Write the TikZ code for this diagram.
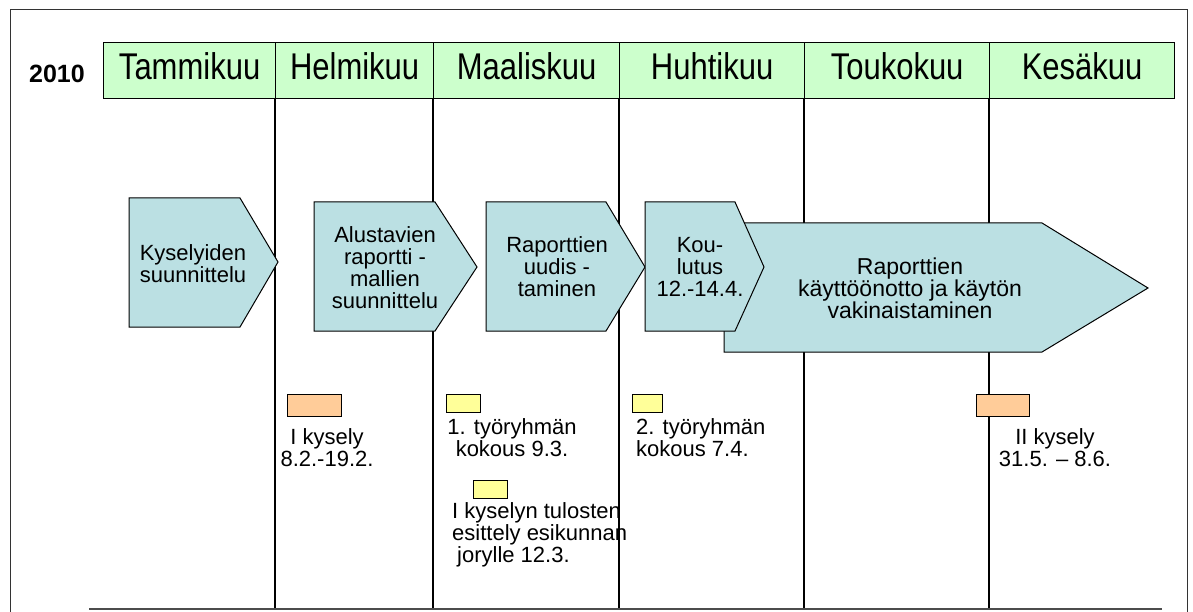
\documentclass[tikz,border=0pt]{standalone}
\usepackage{fontspec}
\setmainfont{Liberation Sans}
\usepackage{graphicx}
\definecolor{hdrgreen}{HTML}{CCFFCC}
\definecolor{phaseblue}{HTML}{BBE0E3}
\definecolor{orangebox}{HTML}{FFCC99}
\definecolor{yellowbox}{HTML}{FFFF99}
\newcommand{\tallhdr}[1]{\scalebox{1}[1.2]{#1}}
\begin{document}
\begin{tikzpicture}[x=1pt,y=-1pt,
  frame/.style={draw=black!80,line width=1pt},
  gridline/.style={draw=black,line width=1.2pt},
  bottomline/.style={draw=black!70,line width=2pt},
  hdrcell/.style={draw=black,fill=hdrgreen,line width=1.2pt,minimum height=56pt,inner sep=0pt,
    anchor=north west,font=\fontsize{31}{31}\selectfont,text height=24pt,text depth=6pt},
  phase/.style={draw=black,fill=phaseblue,line width=1pt},
  ptext/.style={align=center,inner sep=0pt,font=\fontsize{22}{22}\selectfont},
  lbl/.style={align=center,inner sep=0pt,font=\fontsize{22}{22}\selectfont},
  evtorange/.style={draw=black,fill=orangebox,line width=1pt,minimum width=54pt,minimum height=22pt,inner sep=0pt},
  evtyellow/.style={draw=black,fill=yellowbox,line width=1pt,minimum width=34pt,minimum height=18pt,inner sep=0pt},
  yearlbl/.style={font=\bfseries\fontsize{25}{25}\selectfont,inner sep=0pt}]
\useasboundingbox (0,0) rectangle (1193,612);
\fill[white] (0,0) rectangle (1193,612);
% outer frame
\draw[frame] (10,612) -- (10,10) -- (1187,10) -- (1187,612);
% vertical month lines
\foreach \x in {275,433,619,804,989} \draw[gridline] (\x,98) -- (\x,609);
% bottom line
\draw[bottomline] (89,609) -- (1162,609);
% header
\node[yearlbl] (yr) at (57,74) {2010};
\node[hdrcell,minimum width=172pt] (m1) at (103,42) {\tallhdr{Tammikuu}};
\node[hdrcell,minimum width=158pt] (m2) at (275,42) {\tallhdr{Helmikuu}};
\node[hdrcell,minimum width=186pt] (m3) at (433,42) {\tallhdr{Maaliskuu}};
\node[hdrcell,minimum width=185pt] (m4) at (619,42) {\tallhdr{Huhtikuu}};
\node[hdrcell,minimum width=185pt] (m5) at (804,42) {\tallhdr{Toukokuu}};
\node[hdrcell,minimum width=185pt] (m6) at (989,42) {\tallhdr{Kesäkuu}};
% phase arrows
\path[phase] (129,198) -- (240,198) -- (278,262) -- (240,327) -- (129,327) -- cycle;
\path[phase] (314,202) -- (435,202) -- (477,267) -- (435,331) -- (314,331) -- cycle;
\path[phase] (486,202) -- (606,202) -- (645,267) -- (606,331) -- (486,331) -- cycle;
\path[phase] (724,223) -- (1042,223) -- (1148,288) -- (1042,352) -- (724,352) -- cycle;
\path[phase] (645,202) -- (735,202) -- (764,267) -- (735,331) -- (645,331) -- cycle;
\node[ptext] (p1) at (193,264) {Kyselyiden\\suunnittelu};
\node[ptext] (p2) at (385,268) {Alustavien\\raportti -\\mallien\\suunnittelu};
\node[ptext] (p3) at (557,267) {Raporttien\\uudis -\\taminen};
\node[ptext] (p4) at (700,267) {Kou-\\lutus\\12.-14.4.};
\node[ptext,font=\fontsize{23}{22}\selectfont] (p5) at (910,288) {Raporttien\\käyttöönotto ja käytön\\vakinaistaminen};
% event boxes
\node[evtorange] (e1) at (314,405) {};
\node[evtyellow] (e2) at (463,403) {};
\node[evtyellow] (e3) at (490,489) {};
\node[evtyellow,minimum width=30pt] (e4) at (647,403) {};
\node[evtorange,minimum width=53pt] (e5) at (1002.5,405) {};
% event labels
\node[lbl] (l1) at (327,448) {I kysely\\8.2.-19.2.};
\node[lbl] (l2) at (512,438) {1. työryhmän\\kokous 9.3.};
\node[lbl,align=left,anchor=west] (l3) at (452,535) {I kyselyn tulosten\\esittely esikunnan\\\hspace*{5pt}jorylle 12.3.};
\node[lbl,align=left,anchor=west] (l4) at (636,438) {2. työryhmän\\kokous 7.4.};
\node[lbl] (l5) at (1055,448) {II kysely\\31.5. – 8.6.};
\end{tikzpicture}
\end{document}
